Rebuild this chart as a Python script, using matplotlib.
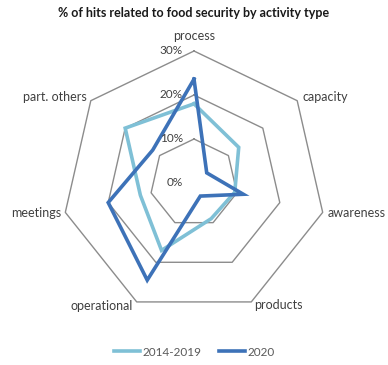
import numpy as np
import matplotlib
matplotlib.use("Agg")
import matplotlib.pyplot as plt
from matplotlib.lines import Line2D

categories = ["process", "capacity", "awareness", "products", "operational", "meetings", "part. others"]
series_names = ["2014-2019", "2020"]
values_2014_2019 = [0.18, 0.13, 0.095, 0.09, 0.17, 0.125, 0.20]
values_2020 = [0.236, 0.037, 0.115, 0.033, 0.245, 0.20, 0.12]
ring_values = [0.0, 0.10, 0.20, 0.30]
ring_labels = ["0%", "10%", "20%", "30%"]
title = "% of hits related to food security by activity type"

plt.rcParams['font.family'] = ['Lato', 'DejaVu Sans']

W, H = 388, 365
fig = plt.figure(figsize=(W / 100, H / 100), dpi=100)
cx, cy, R = 194, 183, 132
ax = fig.add_axes([(cx - R) / W, (H - cy - R) / H, 2 * R / W, 2 * R / H], projection='polar')
ax.set_theta_offset(np.pi / 2)
ax.set_theta_direction(-1)
ax.set_ylim(0, ring_values[-1])
ax.grid(False)
ax.spines['polar'].set_visible(False)
ax.set_xticks([])
ax.set_yticks([])
ax.patch.set_alpha(0)

n = len(categories)
theta = np.linspace(0, 2 * np.pi, n, endpoint=False)
theta_c = np.append(theta, theta[0])

grid_color = "#8c8c8c"
for r in ring_values[1:]:
    ax.plot(theta_c, [r] * (n + 1), color=grid_color, lw=1.0, zorder=1, clip_on=False)

light = "#7fc0d6"
dark = "#3d72b8"
for vals, col in [(values_2014_2019, light), (values_2020, dark)]:
    v = np.append(vals, vals[0])
    ax.plot(theta_c, v, color=col, lw=2.6, zorder=3, clip_on=False, solid_joinstyle='miter')

txt_color = "#404040"
for r, lab in zip(ring_values, ring_labels):
    ax.annotate(lab, xy=(0, r), xytext=(-11, 0), textcoords='offset pixels',
                ha='right', va='center', fontsize=8.5, color=txt_color, annotation_clip=False)

offsets = [(0, 15, 'center'), (5, 4, 'left'), (5, -1, 'left'), (3, -3, 'left'),
           (-4, -4, 'right'), (-4, -1, 'right'), (-4, 4, 'right')]
for t, lab, (dx, dy, ha) in zip(theta, categories, offsets):
    ax.annotate(lab, xy=(t, ring_values[-1]), xytext=(dx, dy), textcoords='offset pixels',
                ha=ha, va='center', fontsize=9, color=txt_color, annotation_clip=False)

fig.text(0.5, 1 - 13 / H, title, ha='center', va='center', fontsize=9, fontweight='bold', color='#1a1a1a')

handles = [Line2D([], [], color=light, lw=2.6), Line2D([], [], color=dark, lw=2.6)]
fig.legend(handles, series_names, loc='center', bbox_to_anchor=(0.5, 1 - 352 / H), ncol=2,
           frameon=False, fontsize=8.5, handlelength=2.2, handletextpad=0.2, columnspacing=1.5,
           labelcolor='#595959')

fig.savefig("out.png", dpi=100)
